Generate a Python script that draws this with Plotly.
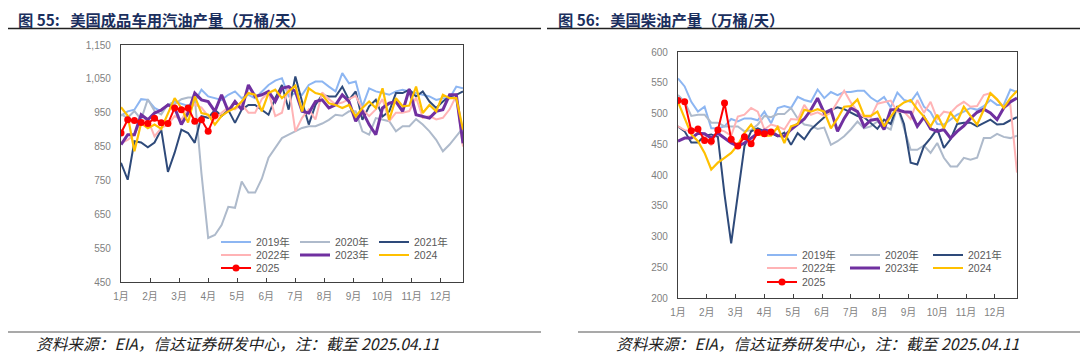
import plotly.graph_objects as go

weeks = list(range(1, 53))
month_labels = [f"{m}月" for m in range(1, 13)]
month_pos = [1 + (m - 1) * 52 / 12 for m in range(1, 13)]

years = ["2019年", "2020年", "2021年", "2022年", "2023年", "2024", "2025"]

gas_2019 = [941, 954, 959, 990, 988, 964, 954, 973, 983, 976, 970, 983, 1018, 998, 993, 988, 1003, 1013, 993, 1003,
            993, 1013, 1032, 1045, 1052, 998, 1008, 1003, 1032, 1042, 1042, 1027, 1013, 1067, 1037, 1042, 968, 1022,
            1013, 1008, 1003, 1013, 1018, 1013, 1008, 1003, 998, 988, 993, 993, 1027, 1022]
gas_2020 = [945, 935, 955, 930, 990, 955, 945, 975, 975, 990, 995, 995, 770, 580, 589, 618, 672, 669, 747, 714,
            714, 755, 817, 846, 875, 885, 895, 905, 910, 910, 918, 929, 944, 941, 954, 954, 895, 885, 934, 929,
            925, 895, 910, 910, 931, 915, 895, 870, 836, 856, 880, 905]
gas_2021 = [802, 752, 866, 862, 848, 862, 900, 775, 832, 900, 890, 861, 940, 935, 958, 940, 958, 920, 959, 973,
            973, 959, 944, 993, 1032, 959, 1057, 983, 915, 973, 1003, 998, 998, 1027, 988, 1013, 929, 969, 988, 939,
            954, 1008, 1008, 1018, 998, 1013, 983, 964, 983, 998, 1003, 1013]
gas_2022 = [860, 870, 885, 925, 930, 880, 905, 915, 940, 930, 960, 975, 965, 940, 930, 950, 965, 960, 975, 950,
            950, 990, 1010, 940, 950, 1030, 895, 935, 960, 930, 1010, 990, 975, 980, 990, 1000, 960, 940, 960, 990,
            925, 950, 950, 955, 995, 935, 940, 930, 935, 960, 1000, 850]
gas_2023 = [856, 885, 885, 944, 929, 949, 958, 973, 964, 915, 949, 1008, 988, 983, 954, 1003, 954, 983, 959, 1032,
            998, 1003, 1013, 983, 1022, 1027, 1013, 954, 949, 983, 988, 964, 973, 1003, 983, 925, 954, 915, 885, 964,
            978, 983, 954, 1020, 944, 939, 934, 954, 959, 1003, 1003, 860]
gas_2024 = [966, 941, 836, 919, 904, 915, 902, 949, 993, 964, 921, 998, 949, 944, 915, 941, 954, 964, 983, 1008,
            1003, 954, 1008, 1018, 993, 1013, 1030, 954, 1022, 1008, 1003, 978, 973, 964, 973, 939, 964, 983, 964,
            1022, 929, 993, 969, 971, 1027, 949, 973, 954, 1003, 993, 993, 900]
gas_2025 = [890, 929, 927, 921, 918, 934, 920, 918, 964, 959, 964, 925, 929, 895, 942]

dsl_2019 = [557, 544, 519, 503, 511, 476, 476, 479, 491, 487, 492, 492, 489, 503, 484, 509, 512, 509, 527, 522,
            519, 539, 525, 535, 530, 535, 535, 537, 537, 526, 519, 527, 510, 534, 522, 519, 534, 511, 502, 483,
            482, 490, 498, 503, 509, 506, 512, 522, 514, 514, 539, 535]
dsl_2020 = [530, 519, 496, 498, 498, 485, 485, 479, 479, 479, 471, 473, 482, 496, 494, 499, 499, 509, 492, 482,
            480, 475, 477, 449, 455, 463, 474, 487, 476, 479, 487, 479, 474, 511, 476, 441, 441, 448, 436, 452,
            428, 414, 414, 428, 425, 428, 460, 460, 467, 462, 460, 464]
dsl_2021 = [479, 471, 453, 453, 464, 466, 462, 368, 289, 370, 447, 471, 476, 471, 468, 463, 469, 449, 468, 458,
            474, 484, 494, 506, 510, 507, 502, 496, 494, 485, 475, 490, 483, 512, 483, 420, 417, 447, 460, 475,
            444, 458, 483, 485, 485, 479, 485, 490, 482, 483, 489, 494]
dsl_2022 = [479, 473, 471, 473, 463, 448, 474, 471, 464, 495, 498, 509, 503, 474, 482, 479, 474, 491, 490, 514,
            498, 502, 496, 501, 519, 537, 518, 503, 494, 494, 516, 519, 521, 503, 503, 491, 522, 501, 519, 491,
            503, 501, 512, 519, 511, 512, 530, 533, 522, 511, 514, 404]
dsl_2023 = [455, 460, 460, 468, 467, 460, 468, 460, 452, 447, 452, 460, 468, 473, 471, 464, 463, 474, 483, 491,
            506, 525, 501, 506, 471, 492, 509, 503, 479, 489, 491, 474, 506, 506, 503, 502, 479, 494, 475, 471,
            474, 460, 471, 480, 492, 502, 507, 501, 490, 509, 519, 525]
dsl_2024 = [519, 492, 466, 455, 436, 409, 420, 428, 436, 449, 468, 482, 466, 464, 464, 478, 452, 479, 483, 506,
            503, 507, 503, 476, 492, 511, 512, 523, 496, 496, 503, 479, 494, 510, 518, 522, 507, 495, 479, 498,
            476, 501, 487, 511, 496, 482, 506, 533, 523, 509, 525, 537]
dsl_2025 = [521, 519, 472, 475, 456, 455, 473, 517, 458, 447, 462, 451, 469, 467, 470]

gas_series = [gas_2019, gas_2020, gas_2021, gas_2022, gas_2023, gas_2024, gas_2025]
dsl_series = [dsl_2019, dsl_2020, dsl_2021, dsl_2022, dsl_2023, dsl_2024, dsl_2025]

colors = ["#8DB6F2", "#AEBACB", "#2E4A7A", "#FFB3B5", "#7030A0", "#FFC000", "#FF0000"]
widths = [2, 2, 2, 2, 3, 2.2, 2]

# page body has an 8px margin; figure is sized so that it fills the 1088x355 window
OFF = 8
W, H = 1088 - OFF, 355 - OFF
FONT = "Liberation Sans, Arial, Noto Sans CJK SC, sans-serif"
CJK = "Noto Sans CJK SC, sans-serif"

fig = go.Figure()


def px_x(v):
    return (v - OFF) / W


def px_y(v):
    return 1 - (v - OFF) / H


legend_rows = [[0, 1, 2], [3, 4, 5], [6]]
for panel, series in enumerate([gas_series, dsl_series]):
    xa = "x" if panel == 0 else "x2"
    ya = "y" if panel == 0 else "y2"
    for i, (name, vals) in enumerate(zip(years, series)):
        row = [r for r, items in enumerate(legend_rows) if i in items][0]
        leg_id = "legend" if (panel == 0 and row == 0) else f"legend{panel * 3 + row + 1}"
        kw = dict(mode="lines")
        if i == 6:
            kw = dict(mode="lines+markers", marker=dict(size=7, color=colors[i]))
        fig.add_trace(go.Scatter(
            x=weeks[:len(vals)], y=vals, name=name, xaxis=xa, yaxis=ya,
            line=dict(color=colors[i], width=widths[i]), legend=leg_id, **kw))

axis_common = dict(showgrid=False, zeroline=False, showline=True, mirror=True,
                   linecolor="#404040", linewidth=1.3,
                   tickfont=dict(family=FONT, size=10, color="#7F7F7F"))
xcommon = dict(range=[1, 52], tickmode="array", tickvals=month_pos, ticktext=month_labels,
               ticks="inside", ticklen=4, tickcolor="#404040", ticklabelstandoff=5, **axis_common)
ycommon = dict(ticks="", ticklabelstandoff=7, **axis_common)

layout = dict(
    width=W, height=H, margin=dict(l=0, r=0, t=0, b=0, autoexpand=False),
    paper_bgcolor="white", plot_bgcolor="white", showlegend=True,
    xaxis=dict(domain=[px_x(121), px_x(463)], anchor="y", **xcommon),
    yaxis=dict(domain=[px_y(282), px_y(45)], range=[450, 1150], dtick=100, tick0=450, tickformat=",",
               anchor="x", **ycommon),
    xaxis2=dict(domain=[px_x(678), px_x(1017)], anchor="y2", **xcommon),
    yaxis2=dict(domain=[px_y(298), px_y(52)], range=[200, 600], dtick=50, anchor="x2", **ycommon),
)

leg_pos = {
    1: (216, 242), 2: (216, 255), 3: (216, 268),
    4: (762, 255), 5: (762, 268), 6: (762, 282),
}
for k, (lx, ly) in leg_pos.items():
    key = "legend" if k == 1 else f"legend{k}"
    layout[key] = dict(x=px_x(lx), y=px_y(ly), xanchor="left", yanchor="middle", orientation="h",
                       entrywidth=34 if k <= 3 else 38, entrywidthmode="pixels",
                       bgcolor="rgba(0,0,0,0)", font=dict(family=FONT, size=10.5, color="#595959"),
                       itemwidth=30, tracegroupgap=0)

fig.update_layout(**layout)

titles = [("图 55:\u00a0\u00a0\u00a0美国成品车用汽油产量（万桶/天）", 17),
          ("图 56:\u00a0\u00a0\u00a0美国柴油产量（万桶/天）", 557)]
for text, x0 in titles:
    fig.add_annotation(text=f"<b>{text}</b>", x=px_x(x0), y=px_y(19), xref="paper", yref="paper",
                       xanchor="left", yanchor="middle", showarrow=False, borderpad=0,
                       font=dict(family=CJK, size=15.3, color="#1B2F5E"))

footer = "资料来源：EIA，信达证券研发中心，注：截至 2025.04.11"
for x0 in [35, 615]:
    fig.add_annotation(text=f"<i>{footer}</i>", x=px_x(x0), y=px_y(343), xref="paper", yref="paper",
                       xanchor="left", yanchor="middle", showarrow=False, borderpad=0,
                       font=dict(family=CJK, size=15.7, color="#222222"))

for (a, b) in [(5, 541), (547, 1083)]:
    fig.add_shape(type="line", xref="paper", yref="paper", x0=px_x(a), x1=px_x(b), y0=px_y(28.5), y1=px_y(28.5),
                  line=dict(color="#222222", width=1.5))
for (a, b) in [(5, 541), (578, 1083)]:
    fig.add_shape(type="line", xref="paper", yref="paper", x0=px_x(a), x1=px_x(b), y0=px_y(332), y1=px_y(332),
                  line=dict(color="#555555", width=1.2))

fig.write_html("out.html")
